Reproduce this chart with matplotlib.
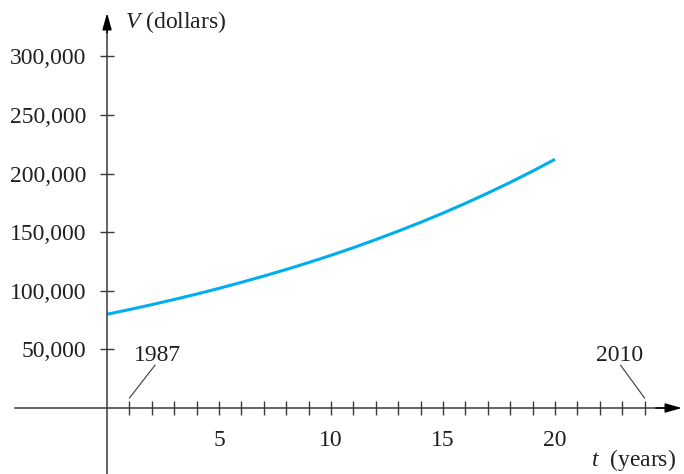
import matplotlib
matplotlib.use("Agg")
import matplotlib.pyplot as plt
from matplotlib.ticker import FuncFormatter

plt.rcParams["font.family"] = ["Liberation Serif", "DejaVu Serif"]
plt.rcParams["mathtext.fontset"] = "custom"
plt.rcParams["mathtext.rm"] = "Liberation Serif"
plt.rcParams["mathtext.it"] = "Liberation Serif:italic"

# value of the house at each year t
years_t = [0, 1, 2, 3, 4, 5, 6, 7, 8, 9, 10, 11, 12, 13, 14, 15, 16, 17, 18, 19, 20]
value_V = [80000, 84000, 88200, 92600, 97200, 102100, 107200, 112600, 118200,
           124100, 130300, 136800, 143700, 150900, 158400, 166300, 174600,
           183400, 192500, 202100, 212200]

y_ticks = [50000, 100000, 150000, 200000, 250000, 300000]
x_major = [5, 10, 15, 20]
x_minor = [1, 2, 3, 4, 6, 7, 8, 9, 11, 12, 13, 14, 16, 17, 18, 19, 21, 22, 23, 24]
year_marks = [(1, "1987"), (24, "2010")]

axis_col = "#3a3a3a"
curve_col = "#00aeef"

fig = plt.figure(figsize=(6.84, 4.74), dpi=100)
ax = fig.add_axes([0, 0, 1, 1])
ax.set_xlim(-4.78, 25.76)
ax.set_ylim(-56300, 348100)

ax.plot(years_t, value_V, color=curve_col, lw=2.2, solid_capstyle="butt")

# axes through the origin
for s in ["top", "right"]:
    ax.spines[s].set_visible(False)
ax.spines["left"].set_position(("data", 0))
ax.spines["bottom"].set_position(("data", 0))
ax.spines["left"].set_bounds(-56300, 325000)
ax.spines["bottom"].set_bounds(-4.1, 25.0)
for s in ["left", "bottom"]:
    ax.spines[s].set_color(axis_col)
    ax.spines[s].set_linewidth(1.1)

ax.annotate("", xy=(0, 337000), xytext=(0, 320000),
            arrowprops=dict(arrowstyle="-|>,head_width=0.28,head_length=1.0",
                            color="black", lw=1.1, shrinkA=0, shrinkB=0))
ax.annotate("", xy=(25.67, 0), xytext=(24.5, 0),
            arrowprops=dict(arrowstyle="-|>,head_width=0.28,head_length=1.0",
                            color="black", lw=1.1, shrinkA=0, shrinkB=0))

ax.set_yticks(y_ticks)
ax.yaxis.set_major_formatter(FuncFormatter(lambda v, p: f"{int(v):,}"))
ax.set_xticks(x_major)
ax.set_xticks(x_minor, minor=True)
ax.tick_params(axis="both", which="both", direction="inout", length=10,
               width=1.0, color=axis_col, labelsize=17, labelcolor="#231f20")
ax.tick_params(axis="y", pad=10)
ax.tick_params(axis="x", pad=11)

ax.text(0.8, 329500, r"$\mathit{V}$ (dollars)", fontsize=17, ha="left",
        va="center", color="#231f20")
ax.text(21.62, -44400, r"$\mathit{t}$  (years)", fontsize=17, ha="left",
        va="center", color="#231f20")

# year callouts with leader lines
for t, lab in year_marks:
    dx = 1.14 if t == 1 else -1.07
    ax.plot([t, t + dx], [8500, 36500], color=axis_col, lw=0.8)
    ax.text(t + dx + (0.11 if t == 1 else -0.05), 45200, lab, fontsize=17,
            ha="center", va="center", color="#231f20")

fig.savefig("out.png", dpi=100)
